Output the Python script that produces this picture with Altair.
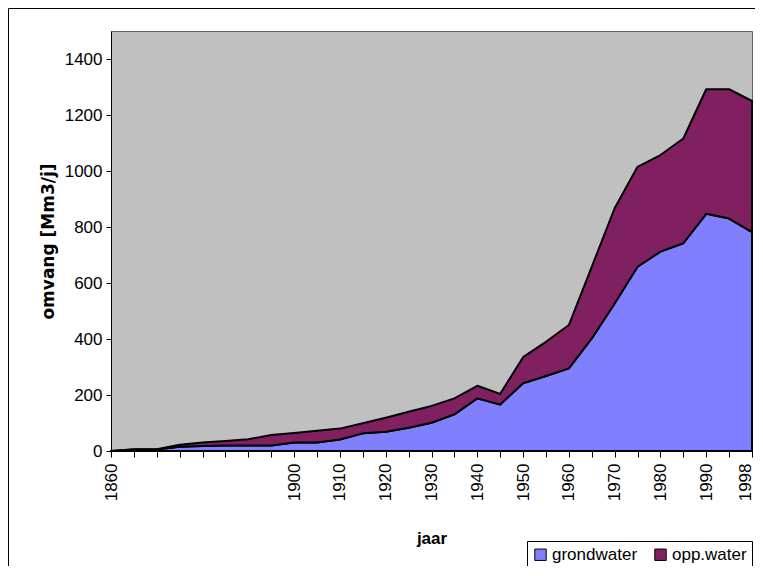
import altair as alt
import pandas as pd

years = [1860, 1865, 1870, 1875, 1880, 1885, 1890, 1895, 1900, 1905, 1910, 1915,
         1920, 1925, 1930, 1935, 1940, 1945, 1950, 1955, 1960, 1965, 1970, 1975,
         1980, 1985, 1990, 1995, 1998]
grondwater = [0, 5, 5, 15, 18, 20, 20, 20, 30, 30, 41, 63, 69, 83, 101, 131, 188, 166,
              242, 268, 295, 402, 527, 658, 712, 742, 847, 830, 782]
oppwater = [0, 1, 1, 7, 12, 16, 22, 37, 34, 42, 39, 36, 50, 57, 60, 57, 45, 38,
            93, 122, 155, 256, 340, 357, 345, 374, 445, 462, 468]
series = ["grondwater", "opp.water"]
colors = ["#8080FF", "#802060"]
y_ticks = [0, 200, 400, 600, 800, 1000, 1200, 1400]

rows = []
for k, (name, vals) in enumerate(zip(series, [grondwater, oppwater])):
    for yr, v in zip(years, vals):
        rows.append({"jaar": yr, "omvang": v, "reeks": name, "k": k})
df = pd.DataFrame(rows)

FONT = "Liberation Sans"

area = alt.Chart(df).mark_area(
    stroke="black",
    strokeWidth=2,
    strokeJoin="round",
    opacity=1,
).encode(
    x=alt.X("jaar:O",
            scale=alt.Scale(type="point", padding=0),
            axis=alt.Axis(
                title="jaar",
                labelAngle=270,
                labelAlign="right",
                labelBaseline="middle",
                labelPadding=6,
                labelFontSize=17,
                labelOverlap=False,
                labelBound=False,
                labelOffset={"condition": {"test": "datum.value == 1998", "value": -7}, "value": 0},
                labelExpr="(datum.value == 1860 || (datum.value >= 1900 && (datum.value % 10 == 0 || datum.value == 1998))) ? datum.label : ''",
                tickSize=6,
                tickColor="black",
                domainColor="black",
                labelColor="black",
                titleFontSize=17,
                titleFontWeight="bold",
                titlePadding=30,
                titleColor="black",
            )),
    y=alt.Y("omvang:Q",
            stack="zero",
            scale=alt.Scale(domain=[0, 1500], nice=False),
            axis=alt.Axis(
                title="omvang [Mm3/j]",
                values=y_ticks,
                format="d",
                grid=False,
                labelFontSize=17,
                labelPadding=4,
                tickSize=5,
                tickColor="black",
                domainColor="black",
                labelColor="black",
                titleFont="DejaVu Sans",
                titleFontSize=17,
                titleFontWeight="bold",
                titlePadding=7,
                titleColor="black",
            )),
    color=alt.Color("reeks:N",
                    scale=alt.Scale(domain=series, range=colors),
                    legend=alt.Legend(
                        title=None,
                        orient="none",
                        legendX=416,
                        legendY=510,
                        direction="horizontal",
                        strokeColor="black",
                        fillColor="white",
                        padding=5,
                        labelFontSize=17,
                        labelColor="black",
                        symbolType="square",
                        symbolSize=130,
                        symbolStrokeColor="black",
                        symbolStrokeWidth=1,
                        columnPadding=14,
                        labelOffset=3,
                    )),
    order=alt.Order("k:Q", sort="ascending"),
)

border_data = alt.Data(values=[{"a": 1}])
left_border = alt.Chart(border_data).mark_rule(color="black", strokeWidth=1).encode(
    x=alt.value(-102.5), y=alt.value(-22.5), y2=alt.value(560)
)
top_border = alt.Chart(border_data).mark_rule(color="black", strokeWidth=1).encode(
    x=alt.value(-102.5), x2=alt.value(660), y=alt.value(-22.5)
)

chart = alt.layer(area, left_border, top_border).properties(
    width=641,
    height=420,
    autosize=alt.AutoSizeParams(type="none"),
    padding={"left": 103, "top": 23, "right": 3, "bottom": 115},
    background="white",
).configure(
    font=FONT,
).configure_view(
    fill="#C0C0C0",
    stroke="#606060",
    strokeWidth=1,
)

chart.save("out.html", embed_options={"renderer": "svg", "actions": False})
